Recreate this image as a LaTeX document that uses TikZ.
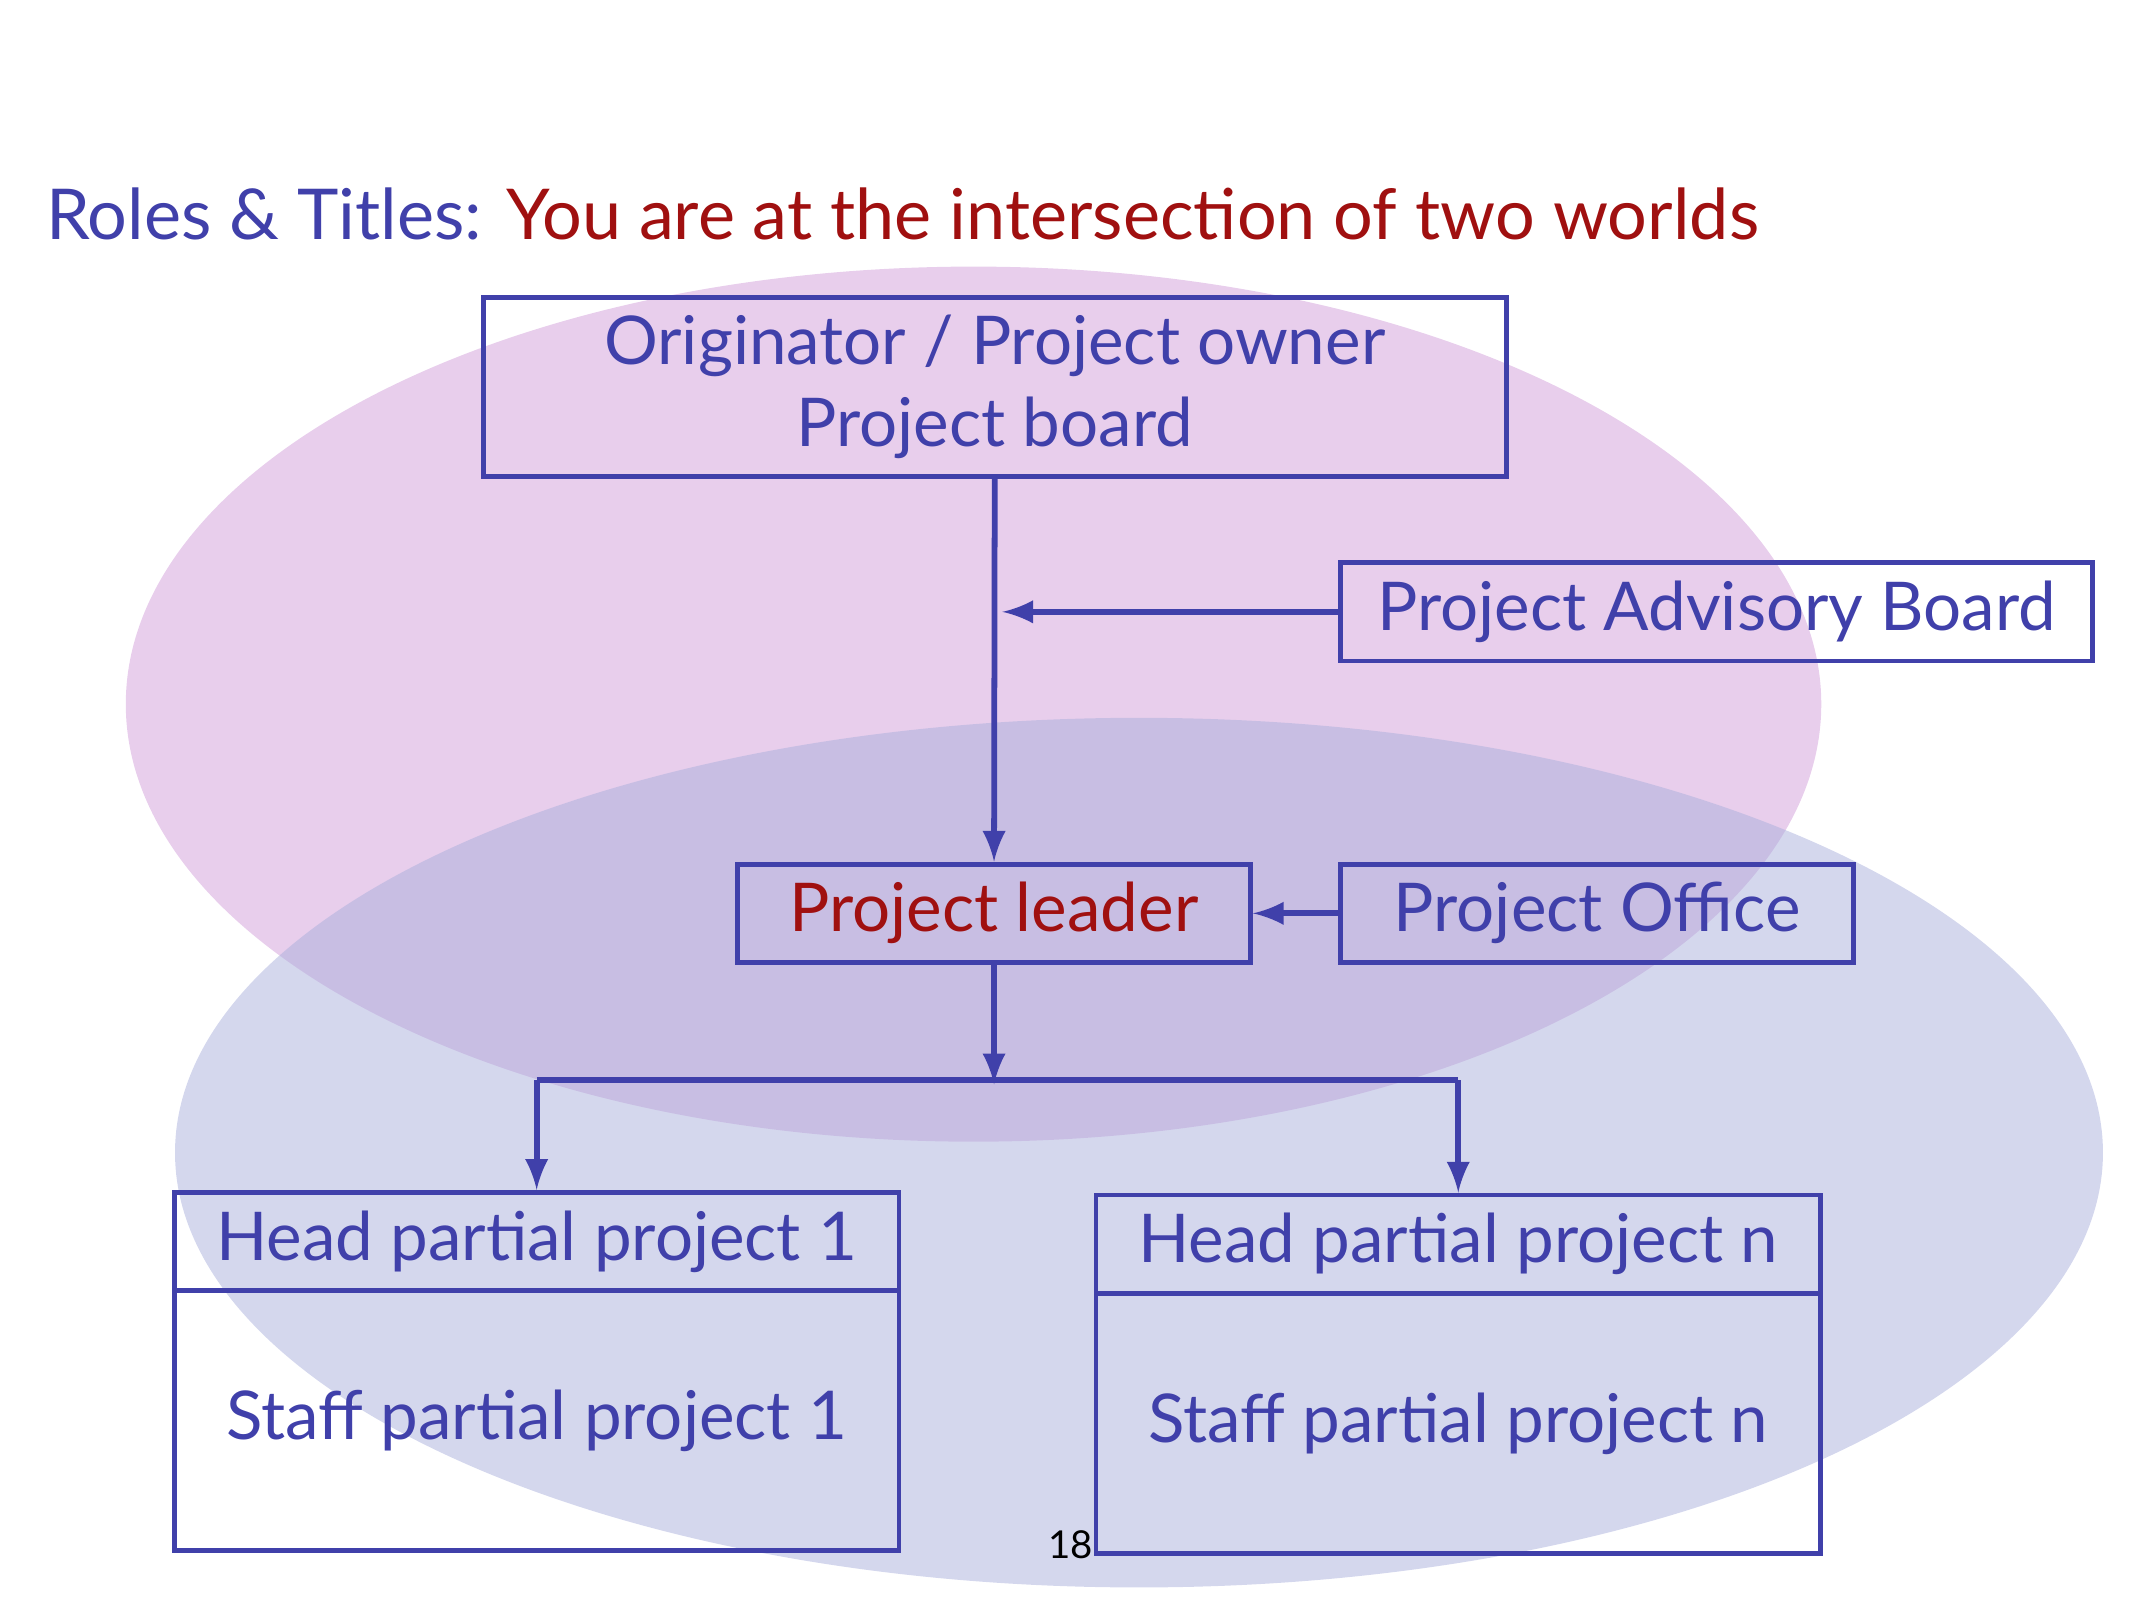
\documentclass[tikz,border=0pt]{standalone}
\usepackage{fontspec}
\setmainfont{Lato}
\usetikzlibrary{positioning}
\definecolor{cblue}{RGB}{64,64,170}
\definecolor{cred}{RGB}{160,16,16}
\definecolor{cpink}{RGB}{232,206,236}
\definecolor{clav}{RGB}{170,176,220}
\begin{document}
\begin{tikzpicture}[font=\fontsize{14}{17}\selectfont,
  box/.style={draw=cblue,line width=1pt,text=cblue,inner sep=0pt},
  link/.style={cblue,line width=1.2pt,-latex}]

\useasboundingbox (0,0) rectangle (15.6,11.7);

%%% the two worlds
\fill[cpink] (7.12,6.55) ellipse (6.2cm and 3.2cm);
\fill[clav,fill opacity=0.5] (8.33,3.27) ellipse (7.05cm and 3.18cm);

%%% title
\node[anchor=base west,inner sep=0pt] (title) at (0.33,9.95)
  {\fontsize{14.6}{18}\selectfont\color{cblue}Roles \& Titles: \color{cred}You are at the intersection of two worlds};

%%% boxes
\node[box,minimum width=7.48cm,minimum height=1.31cm,align=center] (owner) at (7.275,8.87)
  {Originator / Project owner\\Project board};
\node[box,minimum width=5.5cm,minimum height=0.72cm] (advisory) at (12.555,7.225) {Project Advisory Board};
\node[box,minimum width=3.75cm,minimum height=0.72cm,text=cred] (leader) at (7.27,5.02) {Project leader};
\node[box,minimum width=3.75cm,minimum height=0.72cm] (office) at (11.68,5.02) {Project Office};
\node[box,minimum width=5.3cm,minimum height=0.72cm] (head1) at (3.925,2.62) {Head partial project 1};
\node[box,minimum width=5.3cm,minimum height=1.9cm,below=-1pt of head1] (staff1) {Staff partial project 1};
\node[box,minimum width=5.3cm,minimum height=0.72cm] (headn) at (10.665,2.60) {Head partial project n};
\node[box,minimum width=5.3cm,minimum height=1.9cm,below=-1pt of headn] (staffn) {Staff partial project n};

%%% connectors
\coordinate (join) at (7.33,7.225);
\coordinate (fork) at (7.27,3.80);
\draw[link] (advisory.west) -- (join);
\draw[link] (owner.south) -- (leader.north);
\draw[link] (office.west) -- (leader.east);
\draw[link] (leader.south) -- ([yshift=-0.03cm]fork);
\draw[cblue,line width=1.2pt] (fork -| head1.north) -- (fork -| headn.north);
\draw[link] (fork -| head1.north) -- (head1.north);
\draw[link] (fork -| headn.north) -- (headn.north);

%%% page number
\node[font=\fontsize{8}{9}\selectfont,inner sep=0pt] (page) at (7.83,0.4) {18};
\end{tikzpicture}
\end{document}
